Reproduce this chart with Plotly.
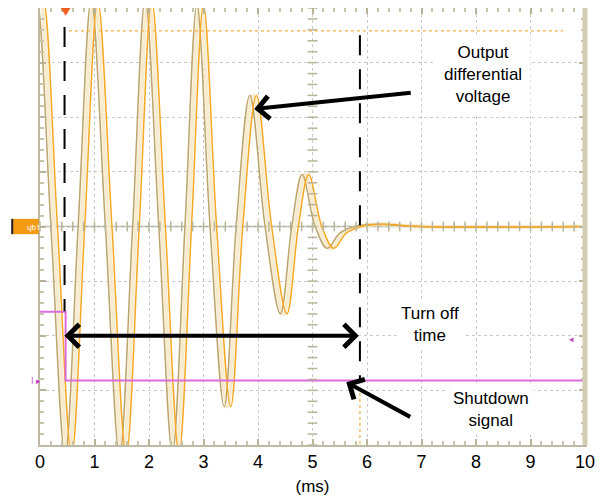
import numpy as np
import plotly.graph_objects as go

# time in ms, amplitude in screen divisions (8 divisions tall, centre = 0)
wave_t = [0.0, 0.06, 0.32, 0.58, 0.82, 1.06, 1.32, 1.58, 1.82, 2.05, 2.3, 2.55, 2.78, 3.0,
          3.24, 3.5, 3.72, 3.97, 4.25, 4.53, 4.74, 4.93, 5.17, 5.39, 5.62, 5.9, 6.3, 7.0, 10.0]
wave_v = [4.0, 4.15, 0.0, -4.2, 0.0, 4.15, 0.0, -4.2, 0.0, 4.15, 0.0, -4.15, 0.0, 4.05,
          0.0, -3.3, 0.0, 2.4, 0.0, -1.6, 0.0, 0.95, 0.0, -0.4, -0.12, 0.0, 0.04, 0.0, 0.0]

shutdown_t = [0.0, 0.47, 0.47, 10.0]
shutdown_v = [-1.56, -1.56, -2.82, -2.82]

x_ticks = list(range(0, 11))
tan_shift = -0.12
pale_shift = -0.06

fig = go.Figure()

# persistence look: pale band, tan trace, orange trace
fig.add_trace(go.Scatter(x=np.array(wave_t) + pale_shift, y=wave_v, mode="lines",
                         line=dict(color="#f8ecd0", width=4, shape="spline", smoothing=1.0),
                         hoverinfo="skip"))
fig.add_trace(go.Scatter(x=np.array(wave_t) + tan_shift, y=wave_v, mode="lines",
                         line=dict(color="#bca46a", width=1.5, shape="spline", smoothing=1.0),
                         hoverinfo="skip"))
fig.add_trace(go.Scatter(x=wave_t, y=wave_v, mode="lines",
                         line=dict(color="#f7a823", width=1.5, shape="spline", smoothing=1.0),
                         hoverinfo="skip"))

fig.add_trace(go.Scatter(x=shutdown_t, y=shutdown_v, mode="lines",
                         line=dict(color="#dd6bdd", width=2), hoverinfo="skip"))

# minor ticks along the centre lines
minor_x = np.arange(0, 10.01, 0.2)
minor_y = np.arange(-4, 4.01, 0.2)
fig.add_trace(go.Scatter(x=minor_x, y=np.zeros_like(minor_x), mode="markers",
                         marker=dict(symbol="line-ns", size=7, line=dict(width=1.5, color="#b8b49a")),
                         hoverinfo="skip"))
fig.add_trace(go.Scatter(x=np.full_like(minor_y, 5.0), y=minor_y, mode="markers",
                         marker=dict(symbol="line-ew", size=7, line=dict(width=1.5, color="#b8b49a")),
                         hoverinfo="skip"))

shapes = [
    dict(type="line", x0=0, x1=10, y0=0, y1=0, line=dict(color="#a9ab93", width=1.5), layer="below"),
    # trigger level cursor
    dict(type="line", x0=0.53, x1=9.6, y0=3.58, y1=3.58, line=dict(color="#f5b040", width=1.2, dash="dot")),
    dict(type="line", x0=5.87, x1=5.87, y0=-3.05, y1=-4, line=dict(color="#f5b040", width=1.2, dash="dot")),
    # dashed timing markers
    dict(type="line", x0=0.45, x1=0.45, y0=3.65, y1=-1.55, line=dict(color="black", width=2, dash="20px,14px")),
    dict(type="line", x0=5.87, x1=5.87, y0=3.5, y1=-2.8, line=dict(color="black", width=2, dash="20px,14px")),
    # right bezel bar
    dict(type="line", xref="paper", yref="paper", x0=1.0, x1=1.0, y0=0, y1=1,
         line=dict(color="#d2cdb2", width=5)),
    # channel 1 marker on the left
    dict(type="rect", xref="paper", x0=-0.051, x1=-0.002, y0=-0.14, y1=0.14,
         fillcolor="#f29a12", line=dict(width=0)),
    dict(type="line", xref="paper", x0=-0.051, x1=-0.051, y0=-0.14, y1=0.14,
         line=dict(color="#222222", width=2)),
    # trigger position marker at the top
    dict(type="path", path="M 0.38 4 L 0.56 4 L 0.47 3.86 Z", fillcolor="#f06020", line=dict(width=0)),
]

txt = dict(family="Liberation Sans, Arial", size=17, color="black")
annotations = [
    dict(x=3.93, y=2.15, ax=6.83, ay=2.45, xref="x", yref="y", axref="x", ayref="y",
         showarrow=True, arrowhead=4, arrowsize=1.1, arrowwidth=4, arrowcolor="black", text=""),
    dict(x=5.85, y=-2.0, ax=0.42, ay=-2.0, xref="x", yref="y", axref="x", ayref="y",
         showarrow=True, arrowhead=4, startarrowhead=4, arrowside="end+start",
         arrowsize=1.1, startarrowsize=1.1, arrowwidth=4, arrowcolor="black", text=""),
    dict(x=5.62, y=-2.85, ax=6.82, ay=-3.5, xref="x", yref="y", axref="x", ayref="y",
         showarrow=True, arrowhead=4, arrowsize=1.1, arrowwidth=4, arrowcolor="black", text=""),
    dict(x=8.12, y=2.78, xref="x", yref="y", showarrow=False, bgcolor="white",
         text="Output<br>differential<br>voltage", font=txt, borderpad=8),
    dict(x=7.15, y=-1.8, xref="x", yref="y", showarrow=False, bgcolor="white",
         text="Turn off<br>time", font=txt, borderpad=4),
    dict(x=8.28, y=-3.35, xref="x", yref="y", showarrow=False, bgcolor="white",
         text="Shutdown<br>signal", font=txt, borderpad=4),
    dict(x=-0.027, y=0, xref="paper", yref="y", showarrow=False, text="\u0265\u01801 \u2190",
         font=dict(size=8, color="white")),
    dict(x=-0.02, y=-2.82, xref="paper", yref="y", showarrow=False, text="I \u25b8",
         font=dict(size=9, color="#c040c0")),
    dict(x=9.76, y=-2.05, xref="x", yref="y", showarrow=False, text="\u25c2",
         font=dict(size=9, color="#c040c0")),
]

grid = dict(showgrid=True, gridcolor="#c9c9c9", griddash="dot", gridwidth=1, zeroline=False,
            showline=True, linecolor="#bdb9a4", linewidth=1.5, mirror="allticks",
            ticks="inside", ticklen=6, tickcolor="#b8b49a", tickwidth=1.5, automargin=False)

# the page body adds an 8px offset, so the figure is sized to fit the window from there
fig.update_layout(
    width=600, height=492,
    margin=dict(l=32, r=23, t=0, b=55, autoexpand=False),
    paper_bgcolor="white", plot_bgcolor="white",
    showlegend=False,
    shapes=shapes, annotations=annotations,
    xaxis=dict(range=[0, 10], tickvals=x_ticks, ticktext=[str(v) for v in x_ticks],
               tickfont=dict(family="Liberation Sans, Arial", size=18, color="black"),
               title=dict(text="(ms)", font=dict(family="Liberation Sans, Arial", size=17, color="black"),
                          standoff=9),
               minor=dict(ticks="inside", ticklen=4, dtick=0.2, tickcolor="#c8c4aa", showgrid=False),
               **grid),
    yaxis=dict(range=[-4, 4], dtick=1, showticklabels=False,
               minor=dict(ticks="inside", ticklen=4, dtick=0.2, tickcolor="#c8c4aa", showgrid=False),
               **grid),
)

fig.write_html("out.html")
